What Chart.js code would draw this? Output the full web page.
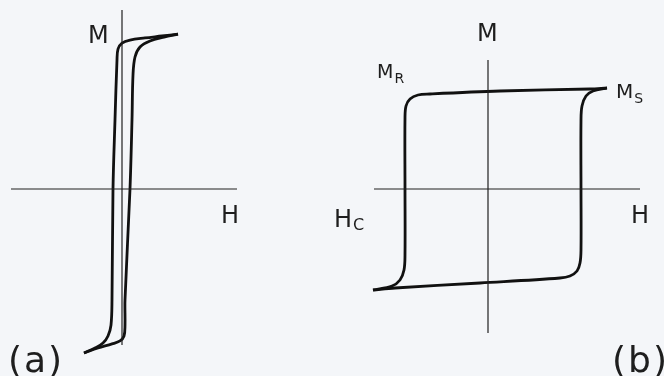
<!DOCTYPE html>
<html>
<head>
<meta charset="utf-8">
<script src="https://cdn.jsdelivr.net/npm/chart.js@4.4.1/dist/chart.umd.min.js"></script>
<style>
  html, body { margin: 0; padding: 0; background: #f4f6f9; }
  #wrap { position: relative; width: 664px; height: 376px; overflow: hidden; }
  canvas { position: absolute; top: 0; }
  #chartA { left: 0; }
  #chartB { left: 332px; }
</style>
</head>
<body>
<div id="wrap">
  <canvas id="chartA" width="250" height="376"></canvas>
  <canvas id="chartB" width="332" height="376"></canvas>
</div>
<script>
// (a) soft magnet - narrow loop. H in arbitrary units, M normalised
const aDownH = [5.6, 4.0, 2.3, 0.8, 0.0, -0.4, -0.5, -0.7, -0.9, -1.0, -1.1, -1.4, -1.9, -2.7, -3.8];
const aDownM = [1.033, 1.02, 1.007, 0.993, 0.973, 0.933, 0.86, 0.46, 0.0, -0.74, -0.907, -0.98, -1.027, -1.06, -1.093];
const aUpH = [-3.8, -2.4, -1.0, -0.2, 0.2, 0.3, 0.3, 0.8, 1.0, 1.1, 1.3, 1.8, 2.8, 4.2, 5.6];
const aUpM = [-1.093, -1.06, -1.033, -1.013, -0.98, -0.907, -0.74, 0.0, 0.46, 0.76, 0.88, 0.947, 0.987, 1.013, 1.033];
const aAxisH = [-11.1, 11.5];
const aAxisM = [1.193, -1.04];

// (b) hard magnet - square loop
const bDownH = [11.9, 10.2, 1.2, -5.8, -7.0, -7.8, -8.2, -8.3, -8.3, -8.3, -8.4, -8.8, -9.6, -11.5];
const bDownM = [1.01, 1.0, 0.98, 0.95, 0.94, 0.90, 0.83, 0.71, 0.0, -0.66, -0.81, -0.91, -0.97, -1.01];
const bUpH = [-11.5, -9.3, -0.8, 7.2, 8.2, 8.9, 9.2, 9.3, 9.3, 9.3, 9.4, 9.8, 10.5, 11.9];
const bUpM = [-1.01, -0.99, -0.94, -0.89, -0.87, -0.82, -0.74, -0.61, 0.0, 0.69, 0.83, 0.93, 0.98, 1.01];
const bAxisH = [-11.4, 15.2];
const bAxisM = [1.29, -1.44];

const labelsA = [
    { text: "M", h: -3.4, m: 0.973, size: 24 },
    { text: "H", h: 9.9, m: -0.227, size: 24 },
    { text: "(a)", h: -11.4, m: -1.22, size: 36, spacing: 2 }
];
const labelsB = [
    { text: "M", h: -1.1, m: 1.48, size: 24 },
    { text: "H", h: 14.3, m: -0.34, size: 24 },
    { text: "M", sub: "R", h: -11.1, m: 1.11, size: 19, subSize: 14, subDrop: 5 },
    { text: "M", sub: "S", h: 12.8, m: 0.91, size: 20, subSize: 14, subDrop: 5 },
    { text: "H", sub: "C", h: -15.4, m: -0.38, size: 24, subSize: 16, subDrop: 3 },
    { text: "(b)", h: 12.4, m: -1.83, size: 36, spacing: 2 }
];

function toPoints(hs, ms) {
    return hs.map((h, i) => ({ x: h, y: ms[i] }));
}

const labelPlugin = {
    id: "textLabels",
    afterDatasetsDraw(chart, args, opts) {
        const ctx = chart.ctx;
        const xs = chart.scales.x, ys = chart.scales.y;
        ctx.save();
        ctx.fillStyle = "#1e1e1e";
        ctx.textAlign = "left";
        ctx.textBaseline = "alphabetic";
        opts.items.forEach(it => {
            const px = xs.getPixelForValue(it.h);
            const py = ys.getPixelForValue(it.m);
            ctx.font = it.size + "px 'DejaVu Sans'";
            ctx.letterSpacing = (it.spacing || 0) + "px";
            ctx.fillText(it.text, px, py);
            if (it.sub) {
                const w = ctx.measureText(it.text).width;
                ctx.font = it.subSize + "px 'DejaVu Sans'";
                ctx.fillText(it.sub, px + w + 1, py + it.subDrop);
            }
        });
        ctx.restore();
    }
};

function axisSet(hRange, mRange) {
    return [
        { data: [{ x: hRange[0], y: 0 }, { x: hRange[1], y: 0 }], borderColor: "#202020", borderWidth: 1.2, tension: 0 },
        { data: [{ x: 0, y: mRange[0] }, { x: 0, y: mRange[1] }], borderColor: "#202020", borderWidth: 1.2, tension: 0 }
    ];
}

function loopSet(points) {
    return { data: points, borderColor: "#111111", borderWidth: 2.8, tension: 0.35 };
}

function makeChart(id, datasets, xr, yr, labels) {
    new Chart(document.getElementById(id), {
        type: "scatter",
        data: { datasets: datasets },
        options: {
            responsive: false,
            animation: false,
            devicePixelRatio: 1,
            showLine: true,
            layout: { padding: 0 },
            elements: { point: { radius: 0 } },
            datasets: { scatter: { showLine: true, pointRadius: 0, fill: false, clip: false } },
            scales: {
                x: { type: "linear", min: xr[0], max: xr[1], display: false },
                y: { type: "linear", min: yr[0], max: yr[1], display: false }
            },
            plugins: {
                legend: { display: false },
                tooltip: { enabled: false },
                textLabels: { items: labels }
            }
        },
        plugins: [labelPlugin]
    });
}

makeChart("chartA", [
    ...axisSet(aAxisH, aAxisM),
    loopSet(toPoints(aDownH, aDownM)),
    loopSet(toPoints(aUpH, aUpM))
], [-12.2, 12.8], [-1.2467, 1.26], labelsA);

makeChart("chartB", [
    ...axisSet(bAxisH, bAxisM),
    loopSet(toPoints(bDownH, bDownM)),
    loopSet(toPoints(bUpH, bUpM))
], [-15.6, 17.6], [-1.87, 1.89], labelsB);
</script>
</body>
</html>
